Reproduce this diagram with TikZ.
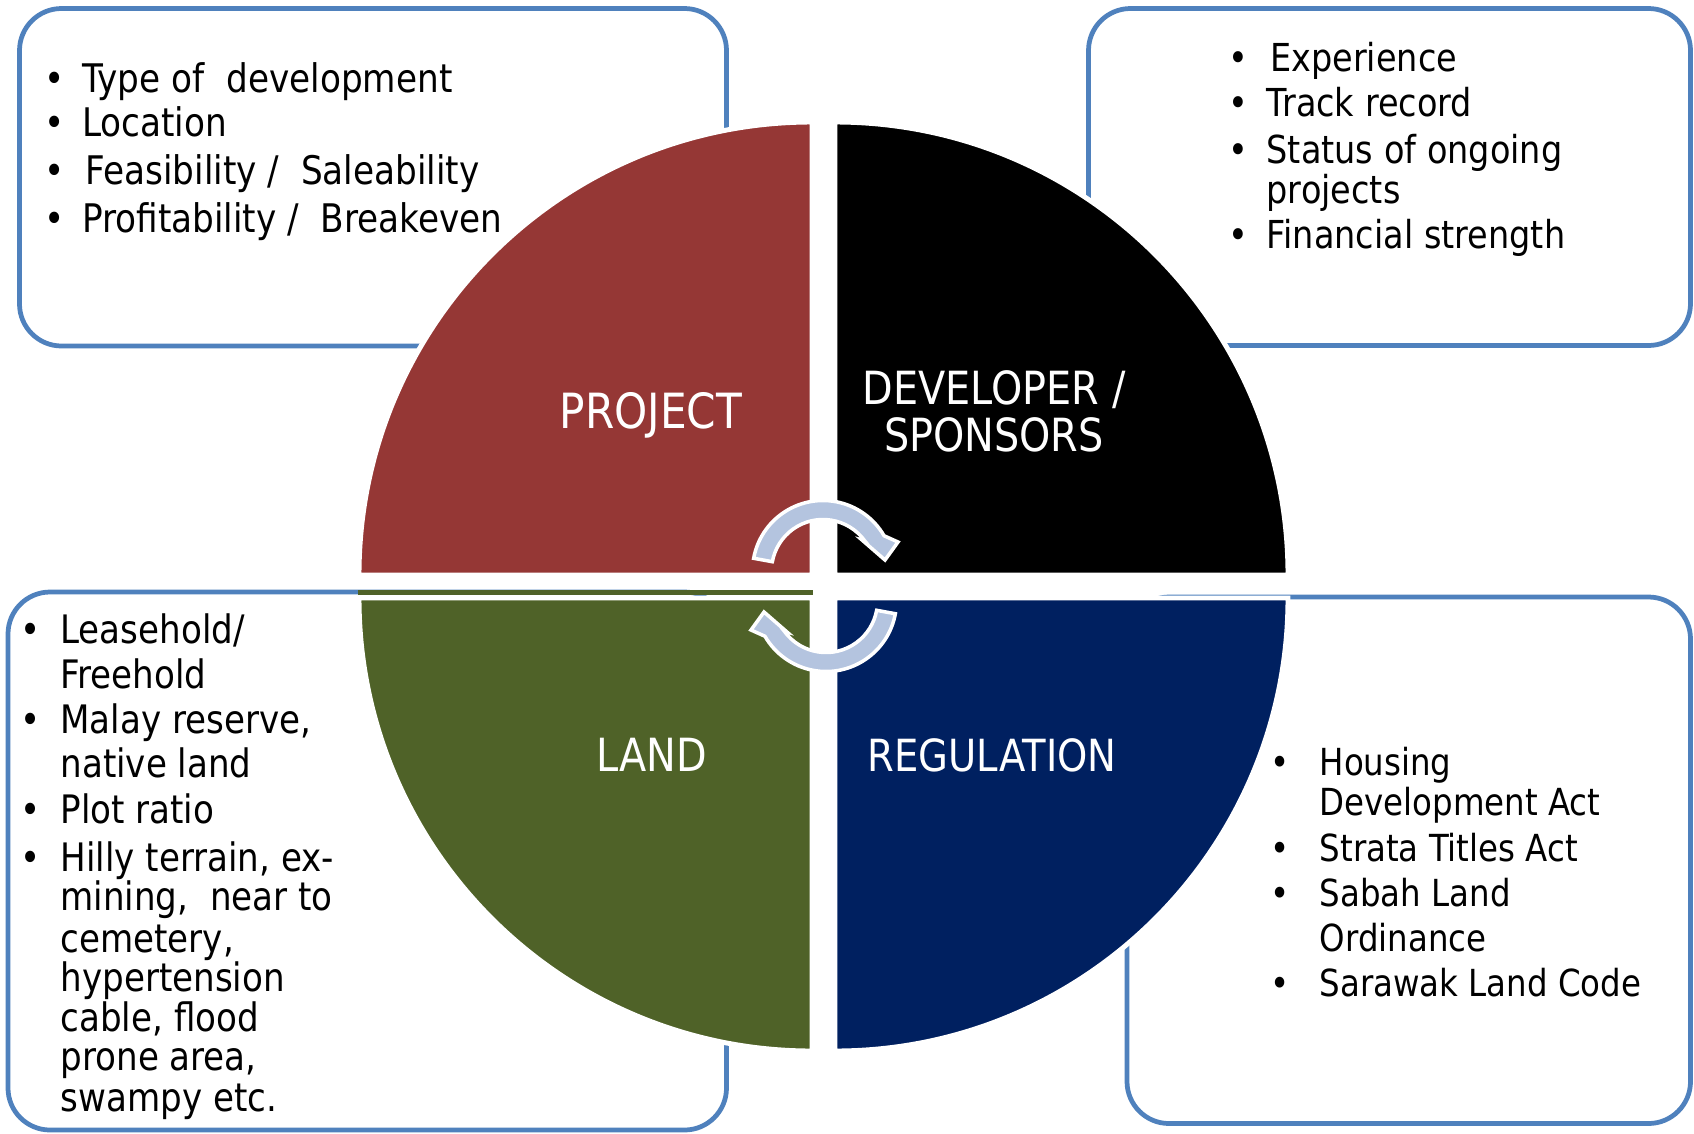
\documentclass[tikz,border=0pt]{standalone}
\usepackage{fontspec}
\setmainfont{DejaVu Sans}[FakeStretch=0.87]
\definecolor{projred}{HTML}{953735}
\definecolor{landgreen}{HTML}{4F6228}
\definecolor{regblue}{HTML}{002060}
\definecolor{boxblue}{HTML}{4F81BD}
\definecolor{cyclefill}{HTML}{B4C4DF}
\newcommand{\bul}[1][10.8pt]{\makebox[#1][l]{\textbullet}}
\newcommand{\wrapin}[1][10.8pt]{\hspace*{#1}}
\begin{document}
\begin{tikzpicture}[x=0.01cm, y=-0.01cm]
  \tikzstyle{infobox} = [draw=boxblue, line width=1.35pt, rounded corners=0.42cm]
  \tikzstyle{quad} = [draw=white, line width=1.4pt]
  \tikzstyle{title} = [text=white, anchor=base, align=center, inner sep=0pt, font=\fontsize{13}{13.3}\selectfont]
  \tikzstyle{list} = [anchor=base west, align=left, inner sep=0pt, font=\fontsize{10.6}{12.8}\selectfont]
  \tikzstyle{cyc} = [fill=cyclefill, draw=white, line width=1pt]

  \fill[white] (0,0) rectangle (1694,1133);
  \useasboundingbox (0,0) rectangle (1694,1133);

  \draw[infobox] (19.5,8.5) rectangle (726.5,346);
  \draw[infobox] (1088.5,8.5) rectangle (1690.5,345.5);
  \draw[infobox] (8,592) rectangle (726.5,1130);
  \draw[infobox] (1127,597) rectangle (1690.5,1123.5);

  \draw[quad, fill=projred] (812,575) -- ++(-453,0) arc[start angle=180, end angle=270, radius=453] -- cycle;
  \draw[quad, fill=black] (835,575) -- ++(0,-453) arc[start angle=-90, end angle=0, radius=453] -- cycle;
  \draw[quad, fill=landgreen] (812,598) -- ++(0,453) arc[start angle=90, end angle=180, radius=453] -- cycle;
  \draw[quad, fill=regblue] (835,598) -- ++(453,0) arc[start angle=0, end angle=90, radius=453] -- cycle;
  \fill[landgreen] (358,589.5) rectangle (813,594.5);

  \begin{scope}[shift={(823,571)}]
    \draw[cyc] (-169.6:70.5) arc[start angle=-169.6, end angle=-30, radius=70.5] -- (75,-29) -- (62,-11) -- (39,-31) -- (-36:51.5) arc[start angle=-36, end angle=-169.6, radius=51.5] -- cycle;
  \end{scope}
  \begin{scope}[shift={(826,601)}]
    \draw[cyc] (10.4:70.5) arc[start angle=10.4, end angle=150, radius=70.5] -- (-75,29) -- (-62,11) -- (-39,31) -- (144:51.5) arc[start angle=144, end angle=10.4, radius=51.5] -- cycle;
  \end{scope}

  \node[title, font=\fontsize{13.8}{13.3}\selectfont] (project) at (651,428) {PROJECT};
  \node[title] (developer) at (994,451.7) {DEVELOPER /\\SPONSORS};
  \node[title] (land) at (652,771.7) {LAND};
  \node[title, font=\fontsize{12.6}{13.3}\selectfont] (regulation) at (992,771.7) {REGULATION};

  \node[list, font=\fontsize{11.2}{12.8}\selectfont] (projectlist) at (43.4,232) {\bul Type of~ development\\[-0.3pt]
    \bul Location\\[0.9pt]
    \bul\hspace{1pt}Feasibility /~ Saleability\\[0.7pt]
    \bul Profitability /~ Breakeven};
  \node[list, font=\fontsize{10.95}{12.8}\selectfont] (developerlist) at (1228,248.3) {\bul\hspace{1pt}Experience\\
    \bul Track record\\[0.7pt]
    \bul Status of ongoing\\[-1.6pt]
    \wrapin projects\\
    \bul Financial strength};
  \node[list, font=\fontsize{11.15}{12.8}\selectfont] (landlist) at (19.4,1111) {\bul[11.5pt]Leasehold/\\[-0.1pt]
    \wrapin[11.5pt]Freehold\\
    \bul[11.5pt]Malay reserve,\\[-0.1pt]
    \wrapin[11.5pt]native land\\[0.1pt]
    \bul[11.5pt]Plot ratio\\[1pt]
    \bul[11.5pt]Hilly terrain, ex-\\[-1.7pt]
    \wrapin[11.5pt]mining,~ near to\\[-1.1pt]
    \wrapin[11.5pt]cemetery,\\[-1.7pt]
    \wrapin[11.5pt]hypertension\\[-1.3pt]
    \wrapin[11.5pt]cable, flood\\[-1.6pt]
    \wrapin[11.5pt]prone area,\\[-1.4pt]
    \wrapin[11.5pt]swampy etc.};
  \node[list] (regulationlist) at (1269.4,996.2) {\bul[14.1pt]Housing\\[-1.5pt]
    \wrapin[14.1pt]Development Act\\[0.3pt]
    \bul[14.1pt]Strata Titles Act\\
    \bul[14.1pt]Sabah Land\\
    \wrapin[14.1pt]Ordinance\\
    \bul[14.1pt]Sarawak Land Code};
\end{tikzpicture}
\end{document}
